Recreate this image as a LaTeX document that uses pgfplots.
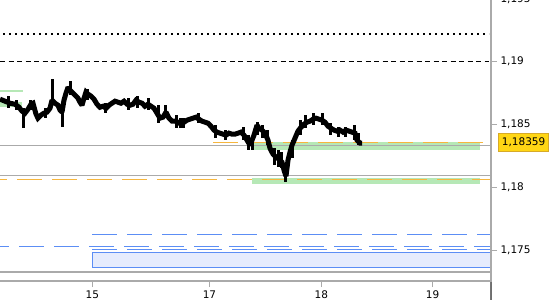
\documentclass[border=0pt]{standalone}
\usepackage{fontspec}
\setmainfont{DejaVu Sans}
\usepackage{pgfplots}
\pgfplotsset{compat=1.18}
\definecolor{gridgray}{RGB}{170,170,170}
\definecolor{lvlorange}{RGB}{246,182,62}
\definecolor{lvlblue}{RGB}{92,142,245}
\definecolor{lvlgreen}{RGB}{182,232,182}
\definecolor{boxblue}{RGB}{230,236,253}
\definecolor{goldfill}{RGB}{255,214,20}
\definecolor{goldedge}{RGB}{215,170,40}
\begin{document}
\begin{tikzpicture}[x=1pt,y=1pt]
\begin{axis}[
  name=main,
  at={(0pt,19pt)}, anchor=south west,
  width=491pt, height=281pt, scale only axis,
  xmin=0, xmax=491, ymin=1.17255, ymax=1.19489,
  clip=false,
  axis line style={draw=none},
  xtick pos=bottom, ytick pos=right, yticklabel pos=right,
  tick align=outside,
  major tick length=6pt,
  xtick={92.3,209.5,321.4,432.6},
  xticklabels={15,17,18,19},
  ytick={1.175,1.18,1.185,1.19},
  yticklabels={{1,175},{1,18},{1,185},{1,19}},
  every tick/.style={gridgray, line width=1.2pt},
  ticklabel style={font=\fontsize{10.5}{12}\selectfont, text=black},
]
% blue zone
\addplot[draw=lvlblue, fill=boxblue, line width=1pt] coordinates {(92,1.17483) (491,1.17483) (491,1.17364) (92,1.17364) (92,1.17483)};
% green bands
\addplot[draw=none, fill=lvlgreen] coordinates {(252,1.18360) (480,1.18360) (480,1.18297) (252,1.18297)};
\addplot[draw=none, fill=lvlgreen] coordinates {(252,1.18072) (480,1.18072) (480,1.18024) (252,1.18024)};
\addplot[draw=none, fill=lvlgreen] coordinates {(0,1.18678) (22,1.18678) (22,1.18638) (0,1.18638)};
\addplot[lvlgreen, line width=1.6pt] coordinates {(0,1.18766) (23,1.18766)};
% gray lines
\addplot[gridgray, line width=1.2pt] coordinates {(0,1.18334) (491,1.18334)};
\addplot[gridgray, line width=1.2pt] coordinates {(0,1.18095) (491,1.18095)};
\addplot[gridgray, line width=1.2pt] coordinates {(0,1.17328) (491,1.17328)};
% black levels
\addplot[black, line width=2pt, dash pattern=on 2pt off 4pt] coordinates {(3,1.19219) (489,1.19219)};
\addplot[black, line width=1.3pt, dash pattern=on 5pt off 3.5pt] coordinates {(0,1.19) (489,1.19)};
% orange levels
\addplot[lvlorange, line width=1pt, dash pattern=on 25pt off 10pt, dash phase=18pt] coordinates {(0,1.18064) (491,1.18064)};
\addplot[lvlorange, line width=1pt, dash pattern=on 25pt off 10pt] coordinates {(213,1.18359) (483,1.18359)};
% blue levels
\addplot[lvlblue, line width=1pt, dash pattern=on 25pt off 10pt] coordinates {(92,1.17626) (491,1.17626)};
\addplot[lvlblue, line width=1pt, dash pattern=on 25pt off 10pt, dash phase=16pt] coordinates {(0,1.17531) (491,1.17531)};
\addplot[lvlblue, line width=1pt, dash pattern=on 25pt off 10pt] coordinates {(92,1.17507) (491,1.17507)};
% price series
\addplot[black, line width=5pt, line join=miter, miter limit=2] coordinates {
(0,1.18702) (5,1.18686) (10,1.18670) (15,1.18662) (19,1.18638) (22,1.18607) (25,1.18591) (28,1.18622) (31,1.18662) (33,1.18670)
(36,1.18583) (38,1.18551) (41,1.18575) (44,1.18591) (47,1.18599) (50,1.18630) (52,1.18694) (55,1.18670) (58,1.18654) (60,1.18615)
(62,1.18599) (64,1.18694) (66,1.18750) (68,1.18797) (70,1.18774) (72,1.18758) (75,1.18734) (78,1.18710) (80,1.18678) (82,1.18654)
(84,1.18710) (86,1.18758) (88,1.18742) (91,1.18726) (94,1.18702) (97,1.18662) (100,1.18638) (103,1.18646) (106,1.18630) (109,1.18654)
(112,1.18670) (115,1.18686) (118,1.18678) (121,1.18670) (124,1.18686) (127,1.18662) (130,1.18654) (133,1.18662) (136,1.18694) (139,1.18678)
(142,1.18670) (145,1.18646) (148,1.18662) (151,1.18646) (154,1.18630) (157,1.18591) (160,1.18551) (163,1.18559) (166,1.18599) (169,1.18551)
(172,1.18527) (175,1.18527) (178,1.18519) (181,1.18503) (184,1.18519) (187,1.18535) (190,1.18543) (193,1.18551) (196,1.18559) (199,1.18543)
(202,1.18527) (205,1.18519) (208,1.18511) (211,1.18487) (214,1.18456) (217,1.18440) (220,1.18432) (223,1.18424) (226,1.18416) (229,1.18432)
(232,1.18424) (235,1.18424) (238,1.18432) (241,1.18440) (244,1.18416) (247,1.18376) (250,1.18336) (252,1.18376) (254,1.18416) (257,1.18495)
(259,1.18471) (262,1.18456) (265,1.18432) (268,1.18376) (270,1.18312) (273,1.18265) (276,1.18241) (279,1.18225) (282,1.18201) (284,1.18138)
(286,1.18090) (288,1.18217) (290,1.18281) (292,1.18336) (295,1.18392) (298,1.18448) (301,1.18479) (304,1.18503) (307,1.18519) (310,1.18527)
(313,1.18543) (316,1.18551) (319,1.18543) (322,1.18535) (325,1.18519) (328,1.18487) (331,1.18471) (334,1.18456) (337,1.18448) (340,1.18456)
(343,1.18440) (346,1.18456) (349,1.18448) (352,1.18440) (355,1.18432) (357,1.18376) (360,1.18352) (362,1.18352)
};
% high-low bars
\addplot[black, line width=3pt, unbounded coords=jump] coordinates {
(8,1.18726) (8,1.18630) (8,nan)
(16,1.18694) (16,1.18615) (16,nan)
(23,1.18630) (23,1.18471) (23,nan)
(30,1.18694) (30,1.18615) (30,nan)
(45,1.18630) (45,1.18551) (45,nan)
(52,1.18861) (52,1.18654) (52,nan)
(62,1.18654) (62,1.18479) (62,nan)
(70,1.18845) (70,1.18734) (70,nan)
(87,1.18781) (87,1.18694) (87,nan)
(105,1.18670) (105,1.18591) (105,nan)
(128,1.18710) (128,1.18615) (128,nan)
(137,1.18726) (137,1.18630) (137,nan)
(148,1.18710) (148,1.18615) (148,nan)
(158,1.18654) (158,1.18511) (158,nan)
(165,1.18654) (165,1.18551) (165,nan)
(176,1.18575) (176,1.18471) (176,nan)
(180,1.18551) (180,1.18471) (180,nan)
(183,1.18551) (183,1.18471) (183,nan)
(198,1.18591) (198,1.18511) (198,nan)
(215,1.18495) (215,1.18392) (215,nan)
(225,1.18456) (225,1.18376) (225,nan)
(243,1.18479) (243,1.18376) (243,nan)
(248,1.18416) (248,1.18297) (248,nan)
(252,1.18376) (252,1.18297) (252,nan)
(257,1.18519) (257,1.18416) (257,nan)
(262,1.18495) (262,1.18392) (262,nan)
(267,1.18456) (267,1.18336) (267,nan)
(274,1.18312) (274,1.18177) (274,nan)
(278,1.18297) (278,1.18161) (278,nan)
(281,1.18281) (281,1.18153) (281,nan)
(285,1.18177) (285,1.18042) (285,nan)
(292,1.18376) (292,1.18233) (292,nan)
(300,1.18535) (300,1.18416) (300,nan)
(305,1.18575) (305,1.18471) (305,nan)
(313,1.18591) (313,1.18495) (313,nan)
(322,1.18591) (322,1.18495) (322,nan)
(330,1.18511) (330,1.18416) (330,nan)
(338,1.18479) (338,1.18400) (338,nan)
(345,1.18479) (345,1.18400) (345,nan)
(354,1.18495) (354,1.18376) (354,nan)
(358,1.18432) (358,1.18336)
};
% current price tick and label
\draw[black, line width=1.5pt] (axis cs:491,1.18359) -- ++(6pt,0);
\node[anchor=west, xshift=7pt, inner xsep=3.5pt, inner ysep=0pt, minimum height=17.6pt,
      fill=goldfill, draw=goldedge, line width=0.8pt,
      font=\fontsize{10.5}{12}\selectfont] at (axis cs:491,1.18359) {1,18359};
\draw[gridgray, line width=1.2pt] (axis cs:491,1.195) -- ++(6pt,0);
\node[anchor=west, xshift=6pt, font=\fontsize{10.5}{12}\selectfont] at (axis cs:491,1.195) {1,195};
\end{axis}
% frame (bottom and right) along the axis box
\draw[gridgray, line width=1.3pt] (main.south west) -- (main.south east) -- (main.north east);
\pgfresetboundingbox
\useasboundingbox (0,0) rectangle (550,300);
\end{tikzpicture}
\end{document}
